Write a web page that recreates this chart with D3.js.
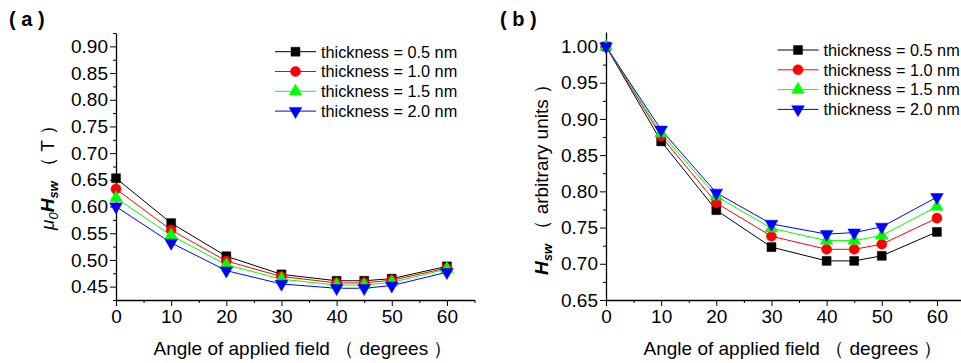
<!DOCTYPE html>
<html>
<head>
<meta charset="utf-8">
<script src="https://cdn.jsdelivr.net/npm/d3@7"></script>
<style>
  html, body { margin: 0; padding: 0; background: #fff; }
  svg { display: block; font-family: "Liberation Sans", Arial, sans-serif; }
</style>
</head>
<body>
<svg id="chart" width="961" height="363"></svg>
<script>
// Field angles (degrees)
const angles = [0, 10, 20, 30, 40, 45, 50, 60];
const seriesNames = ["thickness = 0.5 nm", "thickness = 1.0 nm", "thickness = 1.5 nm", "thickness = 2.0 nm"];

// Panel (a): switching field mu0*Hsw in tesla
const hswT_05 = [0.653, 0.569, 0.507, 0.473, 0.461, 0.461, 0.465, 0.488];
const hswT_10 = [0.633, 0.556, 0.498, 0.469, 0.457, 0.457, 0.462, 0.485];
const hswT_15 = [0.616, 0.546, 0.491, 0.464, 0.453, 0.453, 0.458, 0.483];
const hswT_20 = [0.600, 0.532, 0.480, 0.455, 0.447, 0.447, 0.452, 0.477];

// Panel (b): normalised switching field
const hswN_05 = [1.000, 0.869, 0.774, 0.723, 0.704, 0.704, 0.711, 0.744];
const hswN_10 = [1.000, 0.876, 0.784, 0.738, 0.720, 0.720, 0.727, 0.763];
const hswN_15 = [1.000, 0.880, 0.793, 0.749, 0.732, 0.732, 0.739, 0.779];
const hswN_20 = [1.000, 0.885, 0.798, 0.755, 0.741, 0.743, 0.751, 0.792];

const xTicks = [0, 10, 20, 30, 40, 50, 60];
const yTicksA = [0.45, 0.50, 0.55, 0.60, 0.65, 0.70, 0.75, 0.80, 0.85, 0.90];
const yTicksB = [0.65, 0.70, 0.75, 0.80, 0.85, 0.90, 0.95, 1.00];

const colors = ["#000000", "#ff0000", "#00ff00", "#0000ff"];
const symbols = [
  { type: d3.symbolSquare, size: 80, rot: 0 },
  { type: d3.symbolCircle, size: 80, rot: 0 },
  { type: d3.symbolTriangle, size: 70, rot: 0 },
  { type: d3.symbolTriangle, size: 70, rot: 180 }
];

const svg = d3.select("#chart");

function drawPanel(cfg) {
  const g = svg.append("g");
  const x = d3.scaleLinear().domain([0, 65]).range([cfg.left, cfg.left + 358.5]);
  const y = d3.scaleLinear().domain(cfg.yDomain).range([300, cfg.top]);

  // x axis: major + minor ticks
  const xMinor = d3.range(5, 66, 10);
  g.append("g").attr("transform", "translate(0,300)")
    .call(d3.axisBottom(x).tickValues(xMinor).tickSize(3).tickFormat(""))
    .call(a => a.select(".domain").remove());
  const xa = g.append("g").attr("transform", "translate(0,300)")
    .call(d3.axisBottom(x).tickValues(xTicks).tickSize(6).tickSizeOuter(0).tickPadding(4).tickFormat(d3.format("d")));
  xa.selectAll("text").attr("font-size", 19).attr("fill", "#000").attr("font-family", "Liberation Sans, Arial, sans-serif");
  xa.select(".domain").attr("stroke-width", 1.3);

  // y axis: major + minor ticks
  const yMinor = cfg.yTicks.map(v => v - 0.025).concat([cfg.yTicks[cfg.yTicks.length - 1] + 0.025])
    .filter(v => v >= cfg.yDomain[0] - 1e-9 && v <= cfg.yDomain[1] + 1e-9);
  g.append("g").attr("transform", `translate(${cfg.left},0)`)
    .call(d3.axisLeft(y).tickValues(yMinor).tickSize(3).tickFormat(""))
    .call(a => a.select(".domain").remove());
  const ya = g.append("g").attr("transform", `translate(${cfg.left},0)`)
    .call(d3.axisLeft(y).tickValues(cfg.yTicks).tickSize(6).tickSizeOuter(0).tickPadding(2).tickFormat(d3.format(".2f")));
  ya.selectAll("text").attr("font-size", 19).attr("fill", "#000").attr("font-family", "Liberation Sans, Arial, sans-serif");
  ya.select(".domain").attr("stroke-width", 1.3);

  // series lines
  const line = d3.line().x((d, i) => x(angles[i])).y(d => y(d));
  cfg.series.forEach((s, k) => {
    g.append("path").datum(s).attr("d", line)
      .attr("fill", "none").attr("stroke", colors[k]).attr("stroke-width", 1);
  });
  // series markers
  cfg.series.forEach((s, k) => {
    const sym = d3.symbol().type(symbols[k].type).size(symbols[k].size);
    g.append("g").selectAll("path").data(s).join("path")
      .attr("d", sym)
      .attr("transform", (d, i) => `translate(${x(angles[i])},${y(d)}) rotate(${symbols[k].rot})`)
      .attr("fill", colors[k]).attr("stroke", colors[k]).attr("stroke-width", 0.5);
  });

  // legend
  const lg = g.append("g");
  seriesNames.forEach((name, k) => {
    const ry = cfg.legY + k * 19.8;
    lg.append("line").attr("x1", cfg.legX).attr("x2", cfg.legX + 41).attr("y1", ry).attr("y2", ry)
      .attr("stroke", colors[k]).attr("stroke-width", 1);
    const sym = d3.symbol().type(symbols[k].type).size(symbols[k].size);
    lg.append("path").attr("d", sym)
      .attr("transform", `translate(${cfg.legX + 20.5},${ry}) rotate(${symbols[k].rot})`)
      .attr("fill", colors[k]).attr("stroke", colors[k]).attr("stroke-width", 0.5);
    lg.append("text").attr("x", cfg.legX + 46).attr("y", ry).attr("dy", "0.36em")
      .attr("font-size", 16.3).attr("fill", "#000").text(name);
  });

  // x axis title
  g.append("text").attr("x", cfg.left + 182 + 5).attr("y", 355)
    .attr("text-anchor", "middle").attr("font-size", 19).attr("fill", "#000")
    .text("Angle of applied field （ degrees ）");

  // panel letter
  g.append("text").attr("x", cfg.letterX).attr("y", 26)
    .attr("font-size", 20).attr("font-weight", "bold").attr("fill", "#000")
    .text(cfg.letter);

  return g;
}

const gA = drawPanel({
  left: 116, top: 33, yDomain: [0.425, 0.925], yTicks: yTicksA,
  series: [hswT_05, hswT_10, hswT_15, hswT_20],
  legX: 275, legY: 51.7, letter: "( a )", letterX: 9
});
// y title (a): mu0 H_sw (T)
const tA = gA.append("text").attr("transform", "translate(54,173) rotate(-90)")
  .attr("text-anchor", "middle").attr("font-size", 19).attr("fill", "#000");
tA.append("tspan").attr("font-style", "italic").text("μ");
tA.append("tspan").attr("font-style", "italic").attr("font-size", 13).attr("dy", 4).text("0");
tA.append("tspan").attr("font-style", "italic").attr("font-weight", "bold").attr("dy", -4).text("H");
tA.append("tspan").attr("font-style", "italic").attr("font-weight", "bold").attr("font-size", 13).attr("dy", 4).text("sw");
tA.append("tspan").attr("dy", -4).text(" （ T ）");

const gB = drawPanel({
  left: 606, top: 32, yDomain: [0.65, 1.02], yTicks: yTicksB,
  series: [hswN_05, hswN_10, hswN_15, hswN_20],
  legX: 777.5, legY: 50, letter: "( b )", letterX: 500
});
// y title (b): H_sw (arbitrary units)
const tB = gB.append("text").attr("transform", "translate(548,175) rotate(-90)")
  .attr("text-anchor", "middle").attr("font-size", 19).attr("fill", "#000");
tB.append("tspan").attr("font-style", "italic").attr("font-weight", "bold").text("H");
tB.append("tspan").attr("font-style", "italic").attr("font-weight", "bold").attr("font-size", 13).attr("dy", 4).text("sw");
tB.append("tspan").attr("dy", -4).text(" （ arbitrary units ）");
</script>
</body>
</html>
